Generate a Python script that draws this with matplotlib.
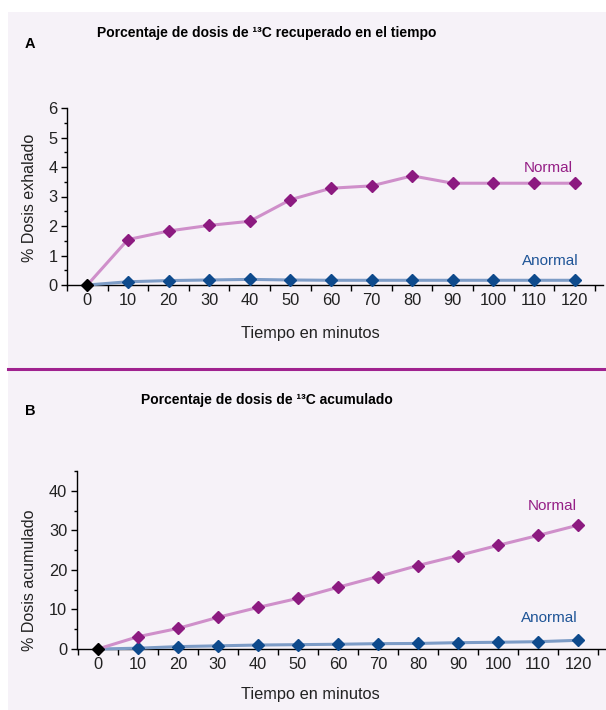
import matplotlib
matplotlib.use("Agg")
import matplotlib.pyplot as plt
from matplotlib.patches import Rectangle
from matplotlib.lines import Line2D
from matplotlib.ticker import MultipleLocator, FixedLocator

plt.rcParams['font.family'] = ['Liberation Sans', 'DejaVu Sans']

minutes = [0, 10, 20, 30, 40, 50, 60, 70, 80, 90, 100, 110, 120]
tick_labels = [str(m) for m in minutes]

exhaled_normal = [0, 1.54, 1.83, 2.02, 2.16, 2.89, 3.28, 3.36, 3.70, 3.45, 3.45, 3.45, 3.45]
exhaled_abnormal = [0, 0.11, 0.15, 0.17, 0.19, 0.17, 0.16, 0.16, 0.16, 0.16, 0.16, 0.16, 0.16]

accum_normal = [0, 3.1, 5.2, 8.0, 10.5, 12.8, 15.6, 18.3, 21.1, 23.6, 26.2, 28.7, 31.3]
accum_abnormal = [0, 0.2, 0.6, 0.8, 1.0, 1.1, 1.2, 1.35, 1.4, 1.6, 1.7, 1.85, 2.2]

NORM_LINE = '#cf8fca'
NORM_MARK = '#8c1a80'
ABN_LINE = '#7d9cc6'
ABN_MARK = '#0e4a8c'
NORM_TXT = '#951f86'
ABN_TXT = '#1f5597'
BG = '#f6f2f8'

W, H = 606, 710
fig = plt.figure(figsize=(W/100, H/100), dpi=100)
fig.patch.set_facecolor('white')
fig.patches.append(Rectangle((8/W, 0), 1 - 8/W, 1 - 12/H, transform=fig.transFigure,
                             facecolor=BG, edgecolor='none', zorder=-10))
fig.lines.append(Line2D([8/W, 1], [1 - 369/H, 1 - 369/H], transform=fig.transFigure,
                        color='#a0228f', linewidth=2.2, zorder=1))

tick_family = ['Liberation Sans Narrow', 'Liberation Sans', 'DejaVu Sans']


def setup(ax, ymax, ymajor, yminor, x0):
    ax.set_facecolor('none')
    ax.set_zorder(2)
    for s in ['top', 'right']:
        ax.spines[s].set_visible(False)
    ax.spines['left'].set_linewidth(1.0)
    ax.spines['bottom'].set_linewidth(1.0)
    ax.set_xlim(x0, 127)
    ax.set_ylim(0, ymax)
    ax.xaxis.set_major_locator(FixedLocator(minutes))
    ax.set_xticklabels(tick_labels)
    ax.xaxis.set_minor_locator(FixedLocator([m + 5 for m in minutes] + [-5]))
    ax.tick_params(axis='x', which='major', length=0, pad=6, labelsize=11.8, labelcolor='#222222')
    ax.tick_params(axis='x', which='minor', length=4, width=1, direction='out')
    ax.yaxis.set_major_locator(MultipleLocator(ymajor))
    ax.yaxis.set_minor_locator(MultipleLocator(yminor))
    ax.tick_params(axis='y', which='major', length=4, width=1, labelsize=11.8, labelcolor='#222222', pad=3)
    ax.tick_params(axis='y', which='minor', length=2.5, width=1)
    for lbl in ax.get_xticklabels() + ax.get_yticklabels():
        lbl.set_fontfamily(tick_family)


def draw(ax, normal, abnormal):
    ax.plot(minutes, abnormal, color=ABN_LINE, lw=2.2, zorder=3, clip_on=False)
    ax.plot(minutes[1:], abnormal[1:], 'D', color=ABN_MARK, ms=6.5, zorder=4, clip_on=False)
    ax.plot(minutes, normal, color=NORM_LINE, lw=2.2, zorder=3, clip_on=False)
    ax.plot(minutes[1:], normal[1:], 'D', color=NORM_MARK, ms=6.5, zorder=4, clip_on=False)
    ax.plot([minutes[0]], [normal[0]], 'D', color='black', ms=6.5, zorder=5, clip_on=False)


# Panel A
axA = fig.add_axes([67/W, 1 - 285/H, (603 - 67)/W, 177/H])
setup(axA, 6, 1, 0.5, -5)
draw(axA, exhaled_normal, exhaled_abnormal)
axA.text(119.5, 3.97, 'Normal', color=NORM_TXT, fontsize=11, ha='right', va='center')
axA.text(121, 0.81, 'Anormal', color=ABN_TXT, fontsize=11, ha='right', va='center')
fig.text(30/W, 1 - 44/H, 'A', fontsize=10.5, fontweight='bold', ha='center', va='center')
fig.text(267/W, 1 - 33/H, 'Porcentaje de dosis de ¹³C recuperado en el tiempo',
         fontsize=10, fontweight='bold', ha='center', va='center')
fig.text(30/W, 1 - 198/H, '% Dosis exhalado', rotation=90, fontsize=11.5,
         ha='center', va='center', color='#222222')
fig.text(310/W, 1 - 333/H, 'Tiempo en minutos', fontsize=11.8, ha='center', va='center',
         color='#222222')

# Panel B
axB = fig.add_axes([77/W, 1 - 649/H, (606 - 77)/W, 178/H])
setup(axB, 45, 10, 5, -5.2)
draw(axB, accum_normal, accum_abnormal)
axB.text(119.8, 36.2, 'Normal', color=NORM_TXT, fontsize=11, ha='right', va='center')
axB.text(119.8, 7.8, 'Anormal', color=ABN_TXT, fontsize=11, ha='right', va='center')
fig.text(30/W, 1 - 411/H, 'B', fontsize=10.5, fontweight='bold', ha='center', va='center')
fig.text(267/W, 1 - 400/H, 'Porcentaje de dosis de ¹³C acumulado',
         fontsize=10, fontweight='bold', ha='center', va='center')
fig.text(30/W, 1 - 580/H, '% Dosis acumulado', rotation=90, fontsize=11.5,
         ha='center', va='center', color='#222222')
fig.text(310/W, 1 - 695/H, 'Tiempo en minutos', fontsize=11.8, ha='center', va='center',
         color='#222222')

fig.savefig('out.png', dpi=100)
